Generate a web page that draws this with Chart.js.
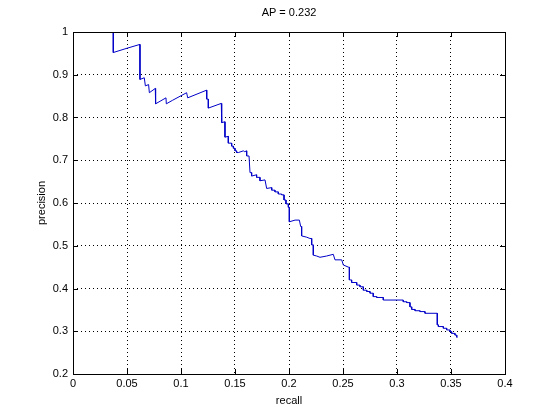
<!DOCTYPE html>
<html>
<head>
<meta charset="utf-8">
<script src="https://cdn.jsdelivr.net/npm/chart.js@4/dist/chart.umd.min.js"></script>
<style>
  html, body { margin: 0; padding: 0; background: #fff; }
  #wrap { width: 560px; height: 420px; }
</style>
</head>
<body>
<div id="wrap"><canvas id="prChart" width="560" height="420"></canvas></div>
<script>
// precision / recall curve
const recall = [
  0.0373, 0.0373, 0.050, 0.062, 0.062, 0.066, 0.067, 0.070, 0.0707, 0.0762,
  0.0765, 0.0861, 0.0864, 0.092, 0.1052, 0.1062, 0.1238, 0.1238, 0.1253, 0.1253,
  0.1373, 0.1377, 0.1407, 0.1407, 0.1438, 0.1438, 0.1469, 0.1469, 0.1485, 0.1485,
  0.150, 0.150, 0.1515, 0.1515, 0.1531, 0.1577, 0.159, 0.1608, 0.1608, 0.163,
  0.1639, 0.1654, 0.1654, 0.170, 0.170, 0.1731, 0.1731, 0.1778, 0.1793, 0.184,
  0.184, 0.187, 0.187, 0.1901, 0.1901, 0.1932, 0.1932, 0.1954, 0.1954, 0.1972,
  0.1972, 0.1994, 0.1994, 0.2003, 0.2003, 0.2056, 0.2096, 0.2108, 0.2117, 0.2117,
  0.2164, 0.2194, 0.221, 0.221, 0.2225, 0.2225, 0.2256, 0.2287, 0.2349, 0.241,
  0.2426, 0.2488, 0.2503, 0.255, 0.2559, 0.2559, 0.258, 0.258, 0.2627, 0.2627,
  0.2657, 0.2657, 0.2688, 0.2688, 0.272, 0.272, 0.275, 0.275, 0.278, 0.278,
  0.2812, 0.2812, 0.2873, 0.2873, 0.3058, 0.3058, 0.309, 0.309, 0.312, 0.312,
  0.3136, 0.3136, 0.3167, 0.3167, 0.3213, 0.3213, 0.3259, 0.3259, 0.3373, 0.3373,
  0.3383, 0.3383, 0.3429, 0.3429, 0.346, 0.346, 0.3491, 0.3491, 0.3506, 0.3506,
  0.3537, 0.3537, 0.3553, 0.3553, 0.356
];
const precision = [
  1.000, 0.952, 0.962, 0.971, 0.889, 0.893, 0.874, 0.877, 0.858, 0.868,
  0.832, 0.846, 0.832, 0.840, 0.858, 0.846, 0.864, 0.843, 0.843, 0.822,
  0.833, 0.788, 0.790, 0.754, 0.756, 0.740, 0.740, 0.733, 0.733, 0.728,
  0.728, 0.722, 0.722, 0.718, 0.718, 0.722, 0.720, 0.722, 0.710, 0.710,
  0.671, 0.671, 0.663, 0.666, 0.660, 0.660, 0.652, 0.654, 0.634, 0.636,
  0.630, 0.630, 0.626, 0.626, 0.621, 0.621, 0.619, 0.619, 0.607, 0.607,
  0.598, 0.598, 0.590, 0.590, 0.556, 0.560, 0.560, 0.545, 0.545, 0.523,
  0.520, 0.517, 0.517, 0.502, 0.502, 0.478, 0.476, 0.473, 0.476, 0.480,
  0.467, 0.467, 0.455, 0.450, 0.450, 0.420, 0.420, 0.414, 0.414, 0.408,
  0.408, 0.404, 0.404, 0.396, 0.396, 0.393, 0.393, 0.389, 0.389, 0.381,
  0.381, 0.379, 0.379, 0.373, 0.373, 0.369, 0.369, 0.367, 0.367, 0.357,
  0.357, 0.351, 0.351, 0.348, 0.348, 0.346, 0.346, 0.342, 0.342, 0.315,
  0.315, 0.311, 0.311, 0.307, 0.307, 0.303, 0.303, 0.299, 0.299, 0.295,
  0.295, 0.291, 0.291, 0.286, 0.286
];

const xTicks = [0, 0.05, 0.1, 0.15, 0.2, 0.25, 0.3, 0.35, 0.4];
const xTickLabels = ['0', '0.05', '0.1', '0.15', '0.2', '0.25', '0.3', '0.35', '0.4'];
const yTicks = [0.2, 0.3, 0.4, 0.5, 0.6, 0.7, 0.8, 0.9, 1];
const yTickLabels = ['0.2', '0.3', '0.4', '0.5', '0.6', '0.7', '0.8', '0.9', '1'];

const chartTitle = 'AP = 0.232';
const FONT = 'Liberation Sans, Arial, Helvetica, sans-serif';

// matlab style: title over the axes, solid box, ticks pointing inwards
const matlabAxes = {
  id: 'matlabAxes',
  afterDatasetsDraw(chart) {
    const { ctx, chartArea: a, scales } = chart;
    ctx.save();
    ctx.strokeStyle = '#000';
    ctx.lineWidth = 1;
    ctx.beginPath();
    xTicks.forEach(v => {
      const px = Math.round(scales.x.getPixelForValue(v)) + 0.5;
      ctx.moveTo(px, a.bottom); ctx.lineTo(px, a.bottom - 5);
      ctx.moveTo(px, a.top); ctx.lineTo(px, a.top + 5);
    });
    yTicks.forEach(v => {
      const py = Math.round(scales.y.getPixelForValue(v)) + 0.5;
      ctx.moveTo(a.left, py); ctx.lineTo(a.left + 5, py);
      ctx.moveTo(a.right, py); ctx.lineTo(a.right - 5, py);
    });
    ctx.stroke();
    ctx.strokeRect(Math.round(a.left) + 0.5, Math.round(a.top) + 0.5,
                   Math.round(a.right - a.left), Math.round(a.bottom - a.top));
    ctx.fillStyle = '#000';
    ctx.font = '11px ' + FONT;
    ctx.textAlign = 'center';
    ctx.textBaseline = 'middle';
    ctx.fillText(chartTitle, (a.left + a.right) / 2, 13);
    ctx.restore();
  }
};

new Chart(document.getElementById('prChart'), {
  type: 'line',
  data: {
    datasets: [{
      label: 'precision',
      data: recall.map((r, i) => ({ x: r, y: precision[i] })),
      borderColor: '#0000c8',
      borderWidth: 1,
      pointRadius: 0,
      fill: false,
      tension: 0
    }]
  },
  options: {
    responsive: false,
    animation: false,
    layout: { padding: { top: 32, right: 55, left: 0, bottom: 0 } },
    plugins: {
      legend: { display: false },
      tooltip: { enabled: false }
    },
    scales: {
      x: {
        type: 'linear',
        min: 0,
        max: 0.4,
        afterFit: s => { s.height = 46; },
        afterBuildTicks: s => { s.ticks = xTicks.map(v => ({ value: v })); },
        ticks: {
          color: '#000',
          font: { family: FONT, size: 11 },
          padding: 3,
          maxRotation: 0,
          callback: (v) => xTickLabels[xTicks.indexOf(v)]
        },
        grid: { color: '#000', lineWidth: 1, drawTicks: false },
        border: { display: false, dash: [1, 3] },
        title: {
          display: true,
          text: 'recall',
          color: '#000',
          font: { family: FONT, size: 11 },
          padding: { top: 4, bottom: 12 }
        }
      },
      y: {
        type: 'linear',
        min: 0.2,
        max: 1,
        afterFit: s => { s.width = 73; },
        afterBuildTicks: s => { s.ticks = yTicks.map(v => ({ value: v })); },
        ticks: {
          color: '#000',
          font: { family: FONT, size: 11 },
          padding: 5,
          callback: (v) => yTickLabels[yTicks.indexOf(v)]
        },
        grid: { color: '#000', lineWidth: 1, drawTicks: false },
        border: { display: false, dash: [1, 3] },
        title: {
          display: true,
          text: 'precision',
          color: '#000',
          font: { family: FONT, size: 11 },
          padding: { top: 35, bottom: 0 }
        }
      }
    }
  },
  plugins: [matlabAxes]
});
</script>
</body>
</html>
